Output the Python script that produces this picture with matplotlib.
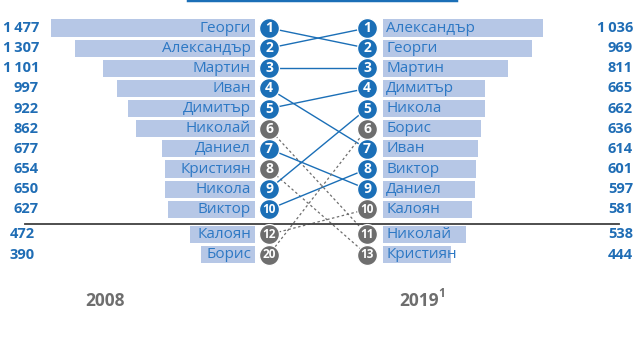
import matplotlib
matplotlib.use("Agg")
import matplotlib.pyplot as plt

# data
names_2008 = ["Георги", "Александър", "Мартин", "Иван", "Димитър", "Николай",
              "Даниел", "Кристиян", "Никола", "Виктор", "Калоян", "Борис"]
counts_2008 = [1477, 1307, 1101, 997, 922, 862, 677, 654, 650, 627, 472, 390]
ranks_2008 = [1, 2, 3, 4, 5, 6, 7, 8, 9, 10, 12, 20]

names_2019 = ["Александър", "Георги", "Мартин", "Димитър", "Никола", "Борис",
              "Иван", "Виктор", "Даниел", "Калоян", "Николай", "Кристиян"]
counts_2019 = [1036, 969, 811, 665, 662, 636, 614, 601, 597, 581, 538, 444]
ranks_2019 = [1, 2, 3, 4, 5, 6, 7, 8, 9, 10, 11, 13]

year_labels = ["2008", "2019"]

BLUE = "#1b6fb7"
TEXT = "#2d78c4"
NUM = "#1f6db5"
BAR = "#b6c7e6"
GREY = "#6e6e6e"
FONT = ["Open Sans", "DejaVu Sans"]
plt.rcParams["font.family"] = FONT


def fmt(v):
    s = f"{v:,}"
    return s.replace(",", "\u2009")


def row_y(i):
    # rows below the top-10 are pushed down a little past the separator
    return i + (0.25 if i >= 10 else 0.0)


fig = plt.figure(figsize=(6.4, 3.6), dpi=100)
ax = fig.add_axes([0, 0, 1, 1])
ax.set_xlim(0, 640)
ax.set_ylim(16.48, -1.39)
ax.axis("off")

L_EDGE, R_EDGE = 255, 383          # bar anchors
L_CIRC, R_CIRC = 269, 367          # rank circles
L_SCALE, R_SCALE = 0.138, 0.154    # px per birth

ys_l = [row_y(i) for i in range(len(names_2008))]
ys_r = [row_y(i) for i in range(len(names_2019))]

# bars
wl = [c * L_SCALE for c in counts_2008]
ax.barh(ys_l, wl, left=[L_EDGE - w for w in wl], height=0.85, color=BAR, zorder=1)
wr = [c * R_SCALE for c in counts_2019]
ax.barh(ys_r, wr, left=R_EDGE, height=0.85, color=BAR, zorder=1)

# labels and counts
for y, n, c in zip(ys_l, names_2008, counts_2008):
    ax.text(L_EDGE - 4, y, n, ha="right", va="center", color=TEXT, fontsize=11)
    xv = 39 if y < 10 else 35
    ax.text(xv, y, fmt(c), ha="right", va="center", color=NUM,
            fontsize=10.5, fontweight="bold")
for y, n, c in zip(ys_r, names_2019, counts_2019):
    ax.text(R_EDGE + 3, y, n, ha="left", va="center", color=TEXT, fontsize=11)
    ax.text(633, y, fmt(c), ha="right", va="center", color=NUM,
            fontsize=10.5, fontweight="bold")

# connecting lines
for n, r1, y1 in zip(names_2008, ranks_2008, ys_l):
    j = names_2019.index(n)
    r2, y2 = ranks_2019[j], ys_r[j]
    if r1 <= 10 and r2 <= 10:
        ax.plot([L_CIRC, R_CIRC], [y1, y2], color=BLUE, lw=1.0, zorder=2)
    else:
        ax.plot([L_CIRC, R_CIRC], [y1, y2], color=GREY, lw=0.9,
                ls=(0, (2, 2)), zorder=2)


# rank circles
def circles(x, ys, names, ranks, other_names, other_ranks):
    for y, n, r in zip(ys, names, ranks):
        r_other = other_ranks[other_names.index(n)]
        col = BLUE if (r <= 10 and r_other <= 10) else GREY
        ax.scatter([x], [y], s=205, color=col, edgecolor="white",
                   linewidth=0.9, zorder=3)
        ax.text(x, y, str(r), ha="center", va="center", color="white",
                fontsize=10 if r < 10 else 8.5, fontweight="bold", zorder=4)


circles(L_CIRC, ys_l, names_2008, ranks_2008, names_2019, ranks_2019)
circles(R_CIRC, ys_r, names_2019, ranks_2019, names_2008, ranks_2008)

# separator between top 10 and the rest
ax.plot([25, 619], [9.72, 9.72], color="#404040", lw=1.3, zorder=2)

# title underline cut at the top edge
ax.plot([188, 456], [-1.37, -1.37], color=BLUE, lw=2.5, clip_on=False)

# year labels
ax.text(105, 13.55, year_labels[0], ha="center", va="center", color=GREY,
        fontsize=12.5, fontweight="bold")
ax.text(419, 13.55, year_labels[1], ha="center", va="center", color=GREY,
        fontsize=12.5, fontweight="bold")
ax.text(438, 13.2, "1", ha="left", va="center", color=GREY,
        fontsize=8.5, fontweight="bold")

fig.savefig("out.png", dpi=100, facecolor="white")
